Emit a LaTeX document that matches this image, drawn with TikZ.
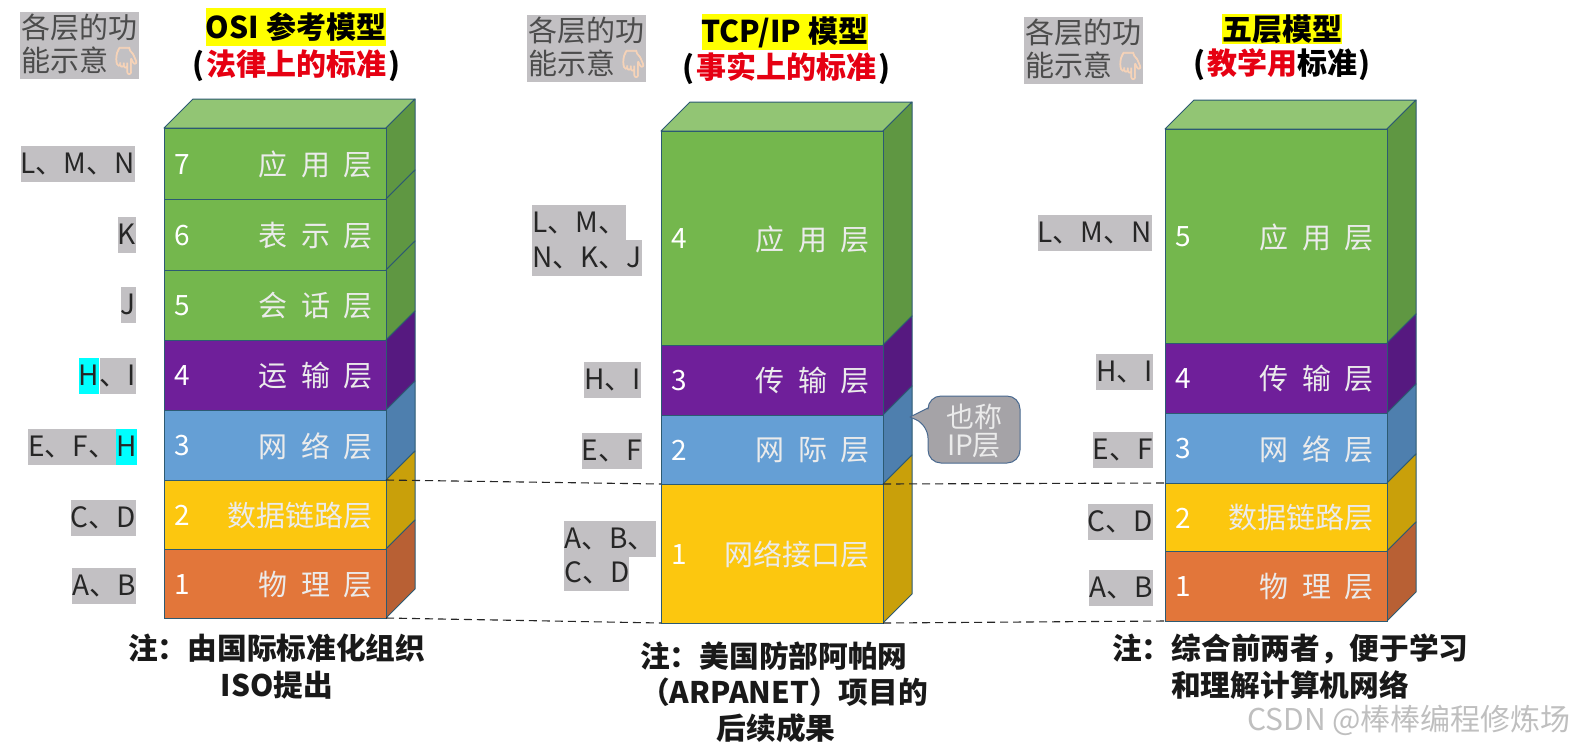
\documentclass[tikz,border=0pt]{standalone}
\usepackage{fontspec}
\setmainfont{Noto Sans CJK SC}
\newfontfamily\emojifont[FakeBold=2.5]{Noto Emoji}
\definecolor{gnF}{HTML}{74B74D}\definecolor{gnS}{HTML}{5F9742}\definecolor{gnT}{HTML}{92C574}
\definecolor{puF}{HTML}{6F1F9A}\definecolor{puS}{HTML}{561980}
\definecolor{blF}{HTML}{659FD5}\definecolor{blS}{HTML}{4E7FAE}
\definecolor{yeF}{HTML}{FCC70F}\definecolor{yeS}{HTML}{C9A00A}
\definecolor{orF}{HTML}{E2763A}\definecolor{orS}{HTML}{B86034}
\definecolor{edgeC}{HTML}{2C5A72}
\definecolor{hlG}{HTML}{C2C0C3}
\definecolor{hlC}{HTML}{00FFFF}
\definecolor{hlY}{HTML}{FFFF00}
\definecolor{calloutF}{HTML}{A5A3A7}
\definecolor{calloutE}{HTML}{4A6A90}
\definecolor{redT}{HTML}{E60012}
\definecolor{hand}{HTML}{F6D3B8}
\newcommand\fs[1]{\fontsize{#1}{#1}\selectfont}
\newcommand\gp{\hspace{13.5pt}}
\newcommand\pg{\hspace{2pt}}
\tikzset{
  x=1pt,y=-1pt,
  frontface/.style={draw=edgeC,line width=1pt,inner sep=0pt,outer sep=0pt,anchor=north west},
  face/.style={draw=edgeC,line width=1pt,line join=round},
  numtext/.style={text=white,font=\fs{28},inner sep=0pt},
  nametext/.style={text=white!92!black,font=\fs{29},inner sep=0pt,anchor=east},
  tag/.style={fill=hlG,text=black!85,font=\fs{28},inner sep=0pt,anchor=east,minimum height=36pt,text height=24pt,text depth=5pt},
  taghi/.style={tag,fill=hlC},
  head/.style={font=\bfseries\fs{30},inner sep=0pt,text=black},
  note/.style={font=\bfseries\fs{29.7},inner sep=0pt,text=black!90},
  bridge/.style={dash pattern=on 8pt off 5pt,line width=1.1pt,draw=black!85},
}
% key, left, right, top, bottom, front colour, side colour, number, name
\newcommand\layer[9]{%
  \fill[#7,face] (#3,#4) -- (#3+29,#4-29) -- (#3+29,#5-29) -- (#3,#5) -- cycle;
  \node[frontface,fill=#6,minimum width={(#3-#2)*1pt},minimum height={(#5-#4)*1pt}] (#1) at (#2,#4) {};
  \node[numtext] (#1num) at (#2+18,{(#4+#5)/2+1}) {#8};
  \node[nametext] (#1name) at (#3-13,{(#4+#5)/2+1}) {#9};
}
\newcommand\topface[3]{\fill[gnT,face] (#1,#3) -- (#1+29,#3-29) -- (#2+29,#3-29) -- (#2,#3) -- cycle;}
\newcommand\legend[3]{%
  \node[fill=hlG,inner sep=0pt,minimum width=119pt,minimum height=67pt] (#1) at (#2,#3) {};
  \node[text=black!70,font=\fs{29},inner sep=0pt,anchor=west] (#1a) at (#2-58,#3-17.5) {各层的功};
  \node[text=black!70,font=\fs{29},inner sep=0pt,anchor=west] (#1b) at (#2-58,#3+15) {能示意};
  \node[text=hand,font=\emojifont\fs{27},inner sep=0pt,anchor=west] (#1c) at (#2+30,#3+16) {👇};
}
\begin{document}
\begin{tikzpicture}
\useasboundingbox[fill=white] (0,0) rectangle (1576,748);

% ===== OSI =====
\topface{164}{386}{128}
\layer{o7}{164}{386}{128}{199}{gnF}{gnS}{7}{应\gp 用\gp 层}
\layer{o6}{164}{386}{199}{270}{gnF}{gnS}{6}{表\gp 示\gp 层}
\layer{o5}{164}{386}{270}{340}{gnF}{gnS}{5}{会\gp 话\gp 层}
\layer{o4}{164}{386}{340}{410}{puF}{puS}{4}{运\gp 输\gp 层}
\layer{o3}{164}{386}{410}{480}{blF}{blS}{3}{网\gp 络\gp 层}
\layer{o2}{164}{386}{480}{549}{yeF}{yeS}{2}{数据链路层}
\layer{o1}{164}{386}{549}{618}{orF}{orS}{1}{物\gp 理\gp 层}

% ===== TCP/IP =====
\topface{661}{883}{131}
\layer{t4}{661}{883}{131}{345}{gnF}{gnS}{4}{应\gp 用\gp 层}
\layer{t3}{661}{883}{345}{415}{puF}{puS}{3}{传\gp 输\gp 层}
\layer{t2}{661}{883}{415}{484}{blF}{blS}{2}{网\gp 际\gp 层}
\layer{t1}{661}{883}{484}{623}{yeF}{yeS}{1}{网络接口层}

% ===== Five =====
\topface{1165}{1387}{129}
\layer{f5}{1165}{1387}{129}{343}{gnF}{gnS}{5}{应\gp 用\gp 层}
\layer{f4}{1165}{1387}{343}{413}{puF}{puS}{4}{传\gp 输\gp 层}
\layer{f3}{1165}{1387}{413}{483}{blF}{blS}{3}{网\gp 络\gp 层}
\layer{f2}{1165}{1387}{483}{551}{yeF}{yeS}{2}{数据链路层}
\layer{f1}{1165}{1387}{551}{621}{orF}{orS}{1}{物\gp 理\gp 层}

% dashed connectors
\draw[bridge] (o2.north east) -- (t1.north west);
\draw[bridge] (t1.north east) -- (f2.north west);
\draw[bridge] (o1.south east) -- (t1.south west);
\draw[bridge] (t1.south east) -- (f1.south west);

% headers
\node[head,fill=hlY,minimum width=180pt,minimum height=38pt] (h1) at (296,27) {OSI 参考模型};
\node[head] (h1b) at (296,66) {(\pg{\color{redT}法律上的标准}\pg)};
\node[head,fill=hlY,minimum width=165pt,minimum height=36pt] (h2) at (785,32) {TCP/IP 模型};
\node[head] (h2b) at (786,69) {(\pg{\color{redT}事实上的标准}\pg)};
\node[head,fill=hlY,minimum width=120pt,minimum height=30pt] (h3) at (1282,29) {五层模型};
\node[head] (h3b) at (1282,65) {(\pg{\color{redT}教学用}标准\pg)};

% legends
\legend{g1}{79}{45}
\legend{g2}{586}{48}
\legend{g3}{1083}{50}

% OSI tags
\node[tag] (a1) at (135,164) {L、M、N};
\node[tag] (a2) at (136,235) {K};
\node[tag] (a3) at (136,305) {J};
\node[tag] (a4) at (136,376) {、I};
\node[taghi,anchor=east] (a4h) at (a4.west) {H};
\node[taghi] (a5h) at (137,447) {H};
\node[tag] (a5) at (a5h.west) {E、F、};
\node[tag] (a6) at (136,518) {C、D};
\node[tag] (a7) at (136,586) {A、B};

% TCP/IP tags
\node[tag,anchor=west] (b1) at (532,223) {L、M、};
\node[tag,anchor=west] (b2) at (532,258) {N、K、J};
\node[tag] (b3) at (641,380) {H、I};
\node[tag] (b4) at (642,451) {E、F};
\node[tag,anchor=west] (b5) at (564,539) {A、B、};
\node[tag,anchor=west] (b6) at (564,573) {C、D};

% Five tags
\node[tag] (c1) at (1152,233) {L、M、N};
\node[tag] (c2) at (1153,372) {H、I};
\node[tag] (c3) at (1153,450) {E、F};
\node[tag] (c4) at (1153,522) {C、D};
\node[tag] (c5) at (1153,588) {A、B};

% callout
\fill[calloutF,draw=calloutE,line width=1pt,line join=round]
  (910,417) -- (928,408) [rounded corners=13pt] -- (928,396) -- (1020,396) -- (1020,463) -- (928,463) -- (928,425) [sharp corners] -- cycle;
\node[text=white!92!black,font=\fs{28},inner sep=0pt,align=center] (co) at (974,431) {\fontsize{28}{34}\selectfont 也称\\IP层};

% notes
\node[note,anchor=west] (n1) at (128,648) {注：由国际标准化组织};
\node[note] (n1b) at (277,685) {ISO提出};
\node[note,anchor=west] (n2) at (640,656) {注：美国防部阿帕网};
\node[note,anchor=west] (n2b) at (640,692) {（ARPANET）项目的};
\node[note] (n2c) at (776,728) {后续成果};
\node[note,anchor=west] (n3) at (1112,649) {注：综合前两者，便于学习};
\node[note,anchor=west] (n3b) at (1171,685) {和理解计算机网络};

% watermark
\node[text=black!25,font=\fs{30},inner sep=0pt,anchor=east] (wm) at (1571,720) {CSDN @棒棒编程修炼场};
\end{tikzpicture}
\end{document}
